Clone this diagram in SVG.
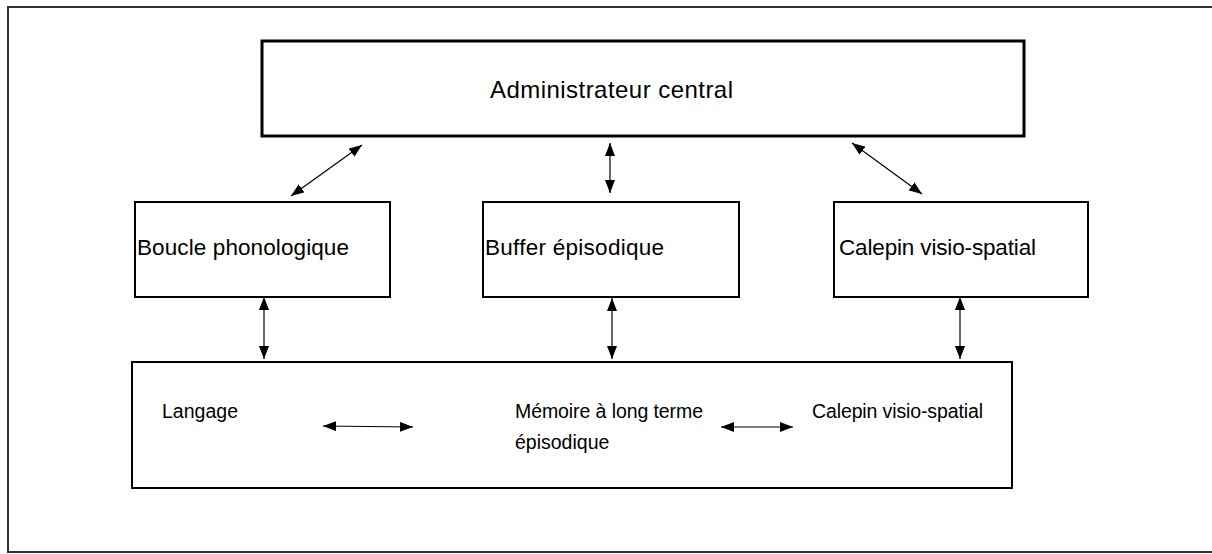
<svg xmlns="http://www.w3.org/2000/svg" width="1212" height="554" viewBox="0 0 1212 554">
<style>
  .box{fill:#fff;stroke:#000;stroke-width:2}
  .thick{stroke-width:3}
  .lbl{font-family:"Liberation Sans",Arial,sans-serif;font-size:22.5px;fill:#000}
  .big{font-size:24px}
  .sm{font-size:19.5px}
  .conn{stroke:#000;stroke-width:1.2;fill:none;marker-start:url(#ah);marker-end:url(#ah)}
</style>
<defs>
  <marker id="ah" markerUnits="userSpaceOnUse" markerWidth="13" markerHeight="10" refX="13" refY="5" orient="auto-start-reverse">
    <path d="M0,0 L13,5 L0,10 z" fill="#000"/>
  </marker>
</defs>
<rect x="0" y="0" width="1212" height="554" fill="#fff"/>
<rect x="8" y="7" width="1210" height="545" fill="none" stroke="#333" stroke-width="2"/>
<g id="admin">
  <rect class="box thick" x="262" y="41" width="762" height="95"/>
  <text class="lbl big" x="490" y="98" textLength="243">Administrateur central</text>
</g>
<g id="boucle">
  <rect class="box" x="135" y="202" width="255" height="95"/>
  <text class="lbl" x="137" y="255" textLength="212">Boucle phonologique</text>
</g>
<g id="buffer">
  <rect class="box" x="483" y="202" width="256" height="95"/>
  <text class="lbl" x="485" y="255" textLength="179">Buffer épisodique</text>
</g>
<g id="calepin">
  <rect class="box" x="834" y="202" width="254" height="95"/>
  <text class="lbl" x="839" y="255" textLength="197">Calepin visio-spatial</text>
</g>
<g id="ltm">
  <rect class="box" x="132" y="362" width="880" height="126"/>
  <text class="lbl sm" x="162" y="418" textLength="76">Langage</text>
  <text class="lbl sm" x="515" y="418" textLength="188">Mémoire à long terme</text>
  <text class="lbl sm" x="515" y="449">épisodique</text>
  <text class="lbl sm" x="812" y="418" textLength="171">Calepin visio-spatial</text>
</g>
<g id="connectors">
  <line class="conn" x1="362" y1="145" x2="291" y2="196"/>
  <line class="conn" x1="610" y1="143" x2="610" y2="193"/>
  <line class="conn" x1="852" y1="143" x2="922" y2="194"/>
  <line class="conn" x1="264" y1="297" x2="264" y2="359"/>
  <line class="conn" x1="612" y1="298" x2="612" y2="359"/>
  <line class="conn" x1="960" y1="297" x2="960" y2="359"/>
  <line class="conn" x1="323" y1="426" x2="413" y2="427"/>
  <line class="conn" x1="721" y1="427" x2="793" y2="427"/>
</g>
</svg>
